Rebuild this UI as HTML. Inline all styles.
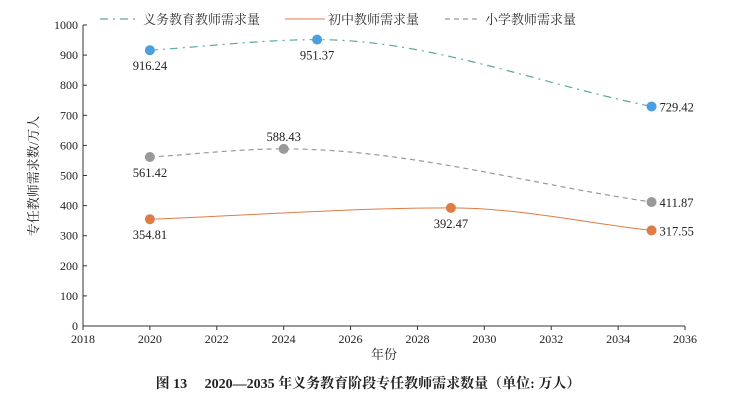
<!DOCTYPE html>
<html><head><meta charset="utf-8"><style>
body{margin:0;background:#fff;}
svg text{font-family:"Liberation Serif","Noto Serif CJK SC",serif;}
</style></head><body>
<svg width="735" height="400" xmlns="http://www.w3.org/2000/svg">
<g id="legend">
 <g><line x1="100" y1="19" x2="140" y2="19" stroke="#5aa9a3" stroke-width="1.3" stroke-dasharray="8,5,2,5"/><text x="143" y="24" font-size="13" fill="#333">义务教育教师需求量</text></g>
 <g><line x1="285" y1="19" x2="325" y2="19" stroke="#e07b45" stroke-width="1"/><text x="328" y="24" font-size="13" fill="#333">初中教师需求量</text></g>
 <g><line x1="445" y1="19" x2="480" y2="19" stroke="#999" stroke-width="1.2" stroke-dasharray="5,4"/><text x="485" y="24" font-size="13" fill="#333">小学教师需求量</text></g>
</g>
<g id="axes"></g>
<g id="series"></g>
<text x="38" y="176" font-size="13" fill="#222" text-anchor="middle" transform="rotate(-90 38 176)">专任教师需求数/万人</text>
<text x="384" y="359" font-size="13" fill="#222" text-anchor="middle">年份</text>
<text x="368" y="388" font-size="14" font-weight="bold" fill="#222" text-anchor="middle">图 13　 2020—2035 年义务教育阶段专任教师需求数量（单位: 万人）</text>
</svg>
<script>
const xTicks=[2018,2020,2022,2024,2026,2028,2030,2032,2034,2036];
const yTicks=[0,100,200,300,400,500,600,700,800,900,1000];
const compYears=[2020,2025,2035];
const compValues=[916.24,951.37,729.42];
const juniorYears=[2020,2029,2035];
const juniorValues=[354.81,392.47,317.55];
const primaryYears=[2020,2024,2035];
const primaryValues=[561.42,588.43,411.87];
const NS="http://www.w3.org/2000/svg";
const X0=83,X1=685,Y0=326,Y1=25;
const sx=v=>X0+(v-2018)/(2036-2018)*(X1-X0);
const sy=v=>Y0-v/1000*(Y0-Y1);
function mk(tag,attrs,parent){const e=document.createElementNS(NS,tag);for(const k in attrs)e.setAttribute(k,attrs[k]);parent.appendChild(e);return e;}
const axes=document.getElementById('axes');
let l=mk('line',{x1:X0,y1:Y0,x2:X1,y2:Y0,stroke:'#333','stroke-width':1},axes);


l=mk('line',{x1:X0,y1:Y0,x2:X0,y2:Y1,stroke:'#333','stroke-width':1},axes);


xTicks.forEach(t=>{
 mk('line',{x1:sx(t),y1:Y0,x2:sx(t),y2:Y0+4,stroke:'#333'},axes);
 const tx=mk('text',{x:sx(t),y:Y0+17,'font-size':12,'text-anchor':'middle',fill:'#222'},axes);
 tx.textContent=t;
 
 
});
yTicks.forEach(t=>{
 mk('line',{x1:X0,y1:sy(t),x2:X0+4,y2:sy(t),stroke:'#333'},axes);
 const tx=mk('text',{x:X0-5,y:sy(t)+4,'font-size':12,'text-anchor':'end',fill:'#222'},axes);
 tx.textContent=t;
 
 
});
function monotone(pts){
 const n=pts.length,m=[],d=[];
 for(let i=0;i<n-1;i++)d.push((pts[i+1][1]-pts[i][1])/(pts[i+1][0]-pts[i][0]));
 m[0]=d[0];m[n-1]=d[n-2];
 for(let i=1;i<n-1;i++)m[i]=(d[i-1]*d[i]<=0)?0:(d[i-1]+d[i])/2;
 let s=`M${pts[0][0]},${pts[0][1]}`;
 for(let i=0;i<n-1;i++){
  const h=(pts[i+1][0]-pts[i][0])/3;
  s+=`C${pts[i][0]+h},${pts[i][1]+m[i]*h} ${pts[i+1][0]-h},${pts[i+1][1]-m[i+1]*h} ${pts[i+1][0]},${pts[i+1][1]}`;
 }
 return s;
}
const series=document.getElementById('series');
function draw(name,years,vals,color,dash,labelOffsets,w){
 const pts=years.map((y,i)=>[sx(y),sy(vals[i])]);
 const p=mk('path',{d:monotone(pts),fill:'none',stroke:color,'stroke-width':w,'stroke-dasharray':dash},series);
 
 
 pts.forEach((pt,i)=>{
  const c=mk('circle',{cx:pt[0],cy:pt[1],r:5,fill:color==='#5aa9a3'?'#4a9fe0':color},series);
  
  
  const o=labelOffsets[i];
  const t=mk('text',{x:pt[0]+o[0],y:pt[1]+o[1],'font-size':12.5,'text-anchor':o[2],fill:'#222'},series);
  t.textContent=vals[i].toFixed(2);
  
  
 });
}
draw('compulsory',compYears,compValues,'#5aa9a3','8,5,2,5',[[0,20,'middle'],[0,20,'middle'],[8,5,'start']],1.2);
draw('junior',juniorYears,juniorValues,'#e07b45','',[[0,20,'middle'],[0,20,'middle'],[8,5,'start']],1);
draw('primary',primaryYears,primaryValues,'#999','5,4',[[0,20,'middle'],[0,-8,'middle'],[8,5,'start']],1.2);
</script>
</body></html>
